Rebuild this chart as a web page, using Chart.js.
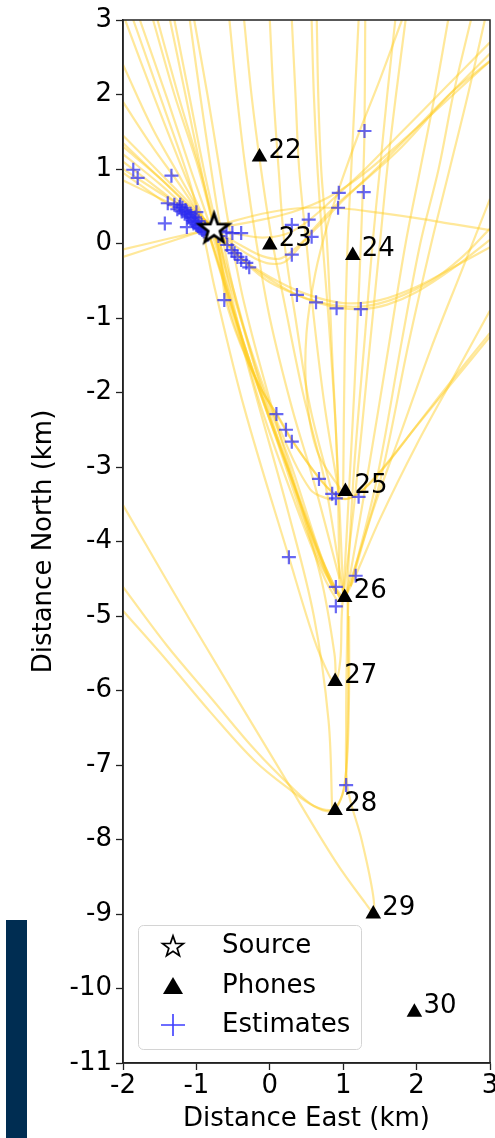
<!DOCTYPE html>
<html>
<head>
<meta charset="utf-8">
<script src="https://cdn.jsdelivr.net/npm/chart.js@4.4.1/dist/chart.umd.min.js"></script>
<style>
  html,body{margin:0;padding:0;background:#fff;overflow:hidden;}
  #wrap{position:relative;width:495px;height:1138px;overflow:hidden;}
  #c{position:absolute;left:0;top:0;}
  #bar{position:absolute;left:6px;top:920px;width:21px;height:218px;background:#002d52;}
</style>
</head>
<body>
<div id="wrap"><canvas id="c" width="506" height="1138"></canvas><div id="bar"></div></div>
<script>
// ---------- data ----------
const xTicks = [-2, -1, 0, 1, 2, 3];
const yTicks = [3, 2, 1, 0, -1, -2, -3, -4, -5, -6, -7, -8, -9, -10, -11];

const sourcePoint = [[-0.76, 0.21]];

const phoneIds   = ['22', '23', '24', '25', '26', '27', '28', '29', '30'];
const phoneEast  = [-0.14, 0.00, 1.13, 1.03, 1.02, 0.89, 0.89, 1.41, 1.97];
const phoneNorth = [1.16, -0.02, -0.16, -3.33, -4.75, -5.88, -7.61, -9.00, -10.32];

const estimateEast = [
  -1.86, -1.80, -1.34, -1.43, -1.39, -1.30, -1.23, -1.19, -1.13, -1.12, -1.07, -1.02, -1.00, -0.96,
  -0.92, -0.86, -1.13, -1.00, -0.59, -0.51, -0.39, -0.58, -0.52, -0.48, -0.44, -0.39, -0.32, -0.28,
  -0.62, -1.26, -1.20, -1.16, -1.10, -1.05, -1.04, -0.98, -0.94, -0.90, -1.15, -1.08, -1.02, -0.97,
  -0.93, -0.88, -1.22, -0.84, -0.68, -0.70,
  0.30, 0.30, 0.37, 0.94, 1.28, 0.93, 0.53, 0.57, 0.63, 0.91, 1.24, 1.29,
  0.09, 0.22, 0.30, 0.67, 0.85, 0.90, 1.21, 0.26, 1.17, 0.90, 0.90, 1.04
];
const estimateNorth = [
  0.99, 0.88, 0.91, 0.27, 0.54, 0.52, 0.49, 0.48, 0.42, 0.38, 0.34, 0.29, 0.25, 0.21,
  0.18, 0.15, 0.22, 0.42, 0.15, 0.14, 0.14, -0.02, -0.09, -0.13, -0.18, -0.22, -0.26, -0.32,
  -0.76, 0.46, 0.43, 0.40, 0.36, 0.31, 0.27, 0.23, 0.20, 0.16, 0.45, 0.40, 0.35, 0.30,
  0.25, 0.20, 0.52, 0.12, 0.17, 0.10,
  0.25, -0.15, -0.69, 0.68, 0.69, 0.48, 0.32, 0.09, -0.79, -0.87, -0.88, 1.51,
  -2.29, -2.50, -2.66, -3.16, -3.36, -3.42, -3.40, -4.21, -4.46, -4.61, -4.87, -7.27
];

// hyperbola traces, [east, north] pairs
const tracesFromTop = [
  [[-2,2.4],[-1.6,1.55],[-1.2,0.85],[-0.9,0.3],[-0.7,-0.3],[-0.45,-1.1],[-0.1,-2.1],[0.35,-3.3],[0.75,-4.4],[1.0,-4.76]],
  [[-2,1.9],[-1.6,1.3],[-1.2,0.75],[-0.9,0.28],[-0.72,-0.2],[-0.5,-0.9],[-0.2,-1.8],[0.2,-2.9],[0.6,-4.0],[0.95,-4.75]],
  [[-1.97,3],[-1.55,1.9],[-1.15,0.9],[-0.85,0.2],[-0.6,-0.6],[-0.3,-1.5],[0.1,-2.6],[0.5,-3.7],[0.85,-4.6],[1.0,-4.76]],
  [[-1.86,3],[-1.45,1.85],[-1.1,0.85],[-0.9,0.1],[-0.75,-0.6],[-0.35,-2.2],[0.26,-4.21],[0.6,-5.3],[0.8,-5.78],[0.89,-5.9],[0.96,-5.6],[0.98,-5.0],[1.02,-4.4],[1.08,-3.3],[1.15,-2.0],[1.22,-0.5],[1.27,0.8],[1.29,1.51],[1.3,3]],
  [[-1.77,3],[-1.4,1.95],[-1.08,1.0],[-0.82,0.25],[-0.62,-0.45],[-0.3,-1.5],[0.15,-2.8],[0.6,-4.1],[0.9,-4.7]],
  [[-1.59,3],[-1.3,2.0],[-1.0,1.1],[-0.78,0.3],[-0.6,-0.35],[-0.3,-1.3],[0.1,-2.4],[0.55,-3.3],[0.85,-3.45]],
  [[-1.53,3],[-1.25,2.0],[-0.98,1.1],[-0.75,0.25],[-0.5,-0.6],[-0.15,-1.8],[0.3,-3.0],[0.7,-4.2],[0.95,-4.75]],
  [[-1.36,3],[-1.15,2.0],[-0.95,1.05],[-0.75,0.15],[-0.55,-0.7],[-0.2,-2.0],[0.25,-3.6],[0.6,-5.0],[0.8,-6.4],[0.85,-7.6]],
  [[-1.30,3],[-1.1,2.0],[-0.9,1.0],[-0.72,0.2],[-0.5,-0.8],[-0.15,-2.1],[0.35,-3.5],[0.75,-4.5],[0.92,-4.8]],
  [[-1.09,3],[-0.95,2.0],[-0.8,1.0],[-0.65,0.1],[-0.45,-0.8],[-0.1,-2.0],[0.35,-3.3],[0.7,-4.5],[0.88,-5.5],[0.9,-5.85]],
  [[-1.03,3],[-0.85,2.0],[-0.7,1.1],[-0.55,0.2],[-0.35,-0.8],[0,-2.1],[0.4,-3.4],[0.85,-4.6]],
  [[-0.55,3],[-0.45,2],[-0.33,1],[-0.18,0],[0.0,-1.0],[0.3,-2.2],[0.6,-3.2],[0.95,-4.5]],
  [[-0.35,3],[-0.25,2],[-0.12,1],[0.02,0.1],[0.2,-0.8],[0.45,-2.0],[0.75,-3.2],[1.0,-4.7]],
  [[0.0,3],[0.05,2],[0.12,1],[0.2,0],[0.35,-1],[0.55,-2.2],[0.85,-3.35]],
  [[0.30,3],[0.35,2],[0.4,1],[0.5,0],[0.6,-1],[0.75,-2.2],[0.95,-3.4]],
  [[0.57,3],[0.6,2],[0.65,1],[0.72,0],[0.8,-1],[0.9,-2.5],[1.0,-4.7]],
  [[0.64,3],[0.66,2],[0.7,1],[0.78,0],[0.85,-1.5],[0.92,-3.0],[0.95,-4.6]],
  [[1.21,3],[1.16,2],[1.11,1],[1.06,0],[1.02,-1.5],[1.0,-3.3]],
  [[1.8,3],[1.5,2.2],[1.22,1.5],[1.0,0.9],[0.8,0.3],[0.62,-0.4],[0.5,-1.2],[0.5,-2.0],[0.65,-2.8],[1.0,-3.35]],
  [[1.71,3],[1.6,2],[1.5,1],[1.4,0],[1.3,-1.2],[1.15,-3.0],[1.05,-4.7]],
  [[1.85,3],[1.72,2],[1.6,1],[1.5,0],[1.35,-1.5],[1.15,-3.5],[1.0,-4.76]],
  [[2.43,3],[2.25,2],[2.05,1],[1.85,0],[1.6,-1.5],[1.35,-3.0],[1.05,-4.7]],
  [[2.74,3],[2.5,2],[2.3,1],[2.05,0],[1.8,-1.3],[1.45,-3.2],[1.1,-4.6]],
  [[2.93,3],[2.7,2.0],[2.45,1.0],[2.2,0],[1.9,-1.3],[1.5,-3.2],[1.05,-4.7]],
  [[3,-0.9],[2.5,-1.8],[2.0,-2.7],[1.5,-3.7],[1.15,-4.5],[1.02,-4.76]],
  [[3,0.6],[2.6,-0.4],[2.2,-1.4],[1.8,-2.5],[1.4,-3.6],[1.1,-4.6]]
];

const tracesThroughSource = [
  [[-2,0.85],[-1.4,0.56],[-1.0,0.38],[-0.8,0.22],[-0.68,-0.2],[-0.6,-0.76],[-0.4,-1.35],[-0.15,-1.9],[0.09,-2.29],[0.3,-2.64],[0.67,-3.15],[0.9,-3.38],[1.05,-3.43],[1.25,-3.32],[1.52,-3.04],[2.0,-2.45],[2.5,-1.85],[3.0,-1.25]],
  [[-2,1.0],[-1.4,0.62],[-1.0,0.4],[-0.78,0.2],[-0.66,-0.25],[-0.57,-0.8],[-0.37,-1.4],[-0.12,-1.95],[0.12,-2.33],[0.33,-2.68],[0.7,-3.18],[0.93,-3.4],[1.08,-3.42],[1.3,-3.28],[1.58,-2.98],[2.05,-2.38],[2.55,-1.75],[3.0,-1.2]],
  [[-2,1.2],[-1.5,0.8],[-1.1,0.45],[-0.76,0.2],[-0.5,-0.08],[-0.25,-0.33],[0.0,-0.52],[0.37,-0.69],[0.64,-0.79],[0.93,-0.86],[1.25,-0.88],[1.6,-0.82],[2.0,-0.65],[2.5,-0.33],[3.0,0.05]],
  [[-2,1.1],[-1.5,0.72],[-1.1,0.42],[-0.72,0.15],[-0.4,-0.2],[0,-0.48],[0.4,-0.7],[0.9,-0.83],[1.3,-0.84],[1.7,-0.74],[2.2,-0.5],[2.6,-0.2],[3.0,0.2]],
  [[-2,1.3],[-1.5,0.88],[-1.1,0.5],[-0.76,0.2],[-0.45,-0.15],[0.0,-0.45],[0.5,-0.68],[1.0,-0.8],[1.5,-0.76],[2.0,-0.58],[2.5,-0.32],[3.0,-0.05]],
  [[-2,1.45],[-1.5,0.95],[-1.1,0.55],[-0.76,0.2],[-0.45,-0.05],[-0.2,-0.2],[0,-0.27],[0.2,-0.25],[0.4,-0.05],[0.6,0.2],[0.94,0.55],[1.3,0.85],[1.8,1.3],[2.4,1.95],[3.0,2.55]],
  [[-2,1.35],[-1.5,0.88],[-1.0,0.42],[-0.7,0.16],[-0.4,-0.02],[-0.1,-0.17],[0.15,-0.2],[0.4,-0.02],[0.7,0.27],[1.0,0.58],[1.5,1.05],[2.0,1.55],[2.5,2.05],[3.0,2.45]],
  [[-2,0.95],[-1.5,0.6],[-1.1,0.35],[-0.76,0.2],[-0.4,0.12],[-0.1,0.08],[0.2,0.12],[0.45,0.25],[0.7,0.45],[0.95,0.68],[1.3,1.0],[1.8,1.5],[2.4,2.1],[3.0,2.7]],
  [[-2,-0.18],[-1.5,-0.02],[-1.0,0.14],[-0.5,0.3],[0,0.42],[0.5,0.48],[1.0,0.47],[1.5,0.41],[2.0,0.34],[2.5,0.26],[3.0,0.18]],
  [[-2,-0.08],[-1.4,0.06],[-0.76,0.2],[-0.2,0.3],[0.3,0.42],[0.8,0.62],[1.3,0.95],[2.0,1.55],[2.5,2.0],[3.0,2.45]]
];

const tracesSouth = [
  [[-2,-3.51],[-1.09,-5.05],[0.22,-7.2],[0.9,-8.3],[1.3,-8.85],[1.41,-8.97],[1.4,-8.7],[1.25,-8.0],[1.06,-7.3],[1.04,-6.5],[1.05,-5.5],[1.07,-4.8]],
  [[-2,-4.61],[-1.4,-5.4],[-0.8,-6.1],[-0.2,-6.8],[0.3,-7.3],[0.6,-7.55],[0.85,-7.62],[0.95,-7.5],[1.02,-7.25],[1.06,-6.8],[1.08,-6.0],[1.08,-5.0]],
  [[-2,-4.93],[-1.4,-5.6],[-0.8,-6.3],[-0.2,-6.95],[0.3,-7.35],[0.6,-7.55],[0.85,-7.6],[0.97,-7.45],[1.03,-7.2],[1.06,-6.5],[1.07,-5.8],[1.06,-4.8]]
];

// ---------- helpers ----------
const FONT = "'DejaVu Sans', 'Liberation Sans', sans-serif";
const LINE_COLOR = 'rgba(255, 205, 30, 0.45)';
const EST_COLOR = 'rgba(45, 45, 240, 0.72)';

function makeStar(R, r, lw) {
  const c = document.createElement('canvas');
  const s = Math.ceil(2 * R + lw * 2 + 4);
  c.width = c.height = s;
  const g = c.getContext('2d');
  const cx = s / 2, cy = s / 2 + R * 0.08;
  g.beginPath();
  for (let i = 0; i < 10; i++) {
    const a = -Math.PI / 2 + i * Math.PI / 5;
    const rr = i % 2 ? r : R;
    g.lineTo(cx + rr * Math.cos(a), cy + rr * Math.sin(a));
  }
  g.closePath();
  g.fillStyle = '#fff';
  g.fill();
  g.lineWidth = lw;
  g.lineJoin = 'miter';
  g.strokeStyle = '#000';
  g.stroke();
  return c;
}
const bigStar = makeStar(15.5, 6.2, 2.8);
const smallStar = makeStar(11, 4.4, 1.7);

const toXY = arr => arr.map(p => ({ x: p[0], y: p[1] }));

const datasets = [];
datasets.push({
  label: 'Source', data: toXY(sourcePoint), pointStyle: bigStar, pointRadius: 15, order: 0
});
datasets.push({
  label: 'Phones', data: phoneEast.map((x, i) => ({ x, y: phoneNorth[i] })),
  pointStyle: 'triangle', pointRadius: 9, backgroundColor: '#000', borderColor: '#000', borderWidth: 0, order: 1
});
datasets.push({
  label: 'Estimates', data: estimateEast.map((x, i) => ({ x, y: estimateNorth[i] })),
  pointStyle: 'cross', pointRadius: 7, borderColor: EST_COLOR, borderWidth: 2.2, order: 2
});
[...tracesFromTop, ...tracesThroughSource, ...tracesSouth].forEach((tr, i) => {
  datasets.push({
    label: 'trace' + i, data: toXY(tr), showLine: true, pointRadius: 0,
    borderColor: LINE_COLOR, borderWidth: 2.2, tension: 0.35, order: 10 + i
  });
});

const overlay = {
  id: 'overlay',
  afterDatasetsDraw(chart) {
    const { ctx, chartArea, scales } = chart;
    ctx.save();
    // frame
    ctx.strokeStyle = '#222';
    ctx.lineWidth = 1.5;
    ctx.strokeRect(chartArea.left, chartArea.top, chartArea.right - chartArea.left, chartArea.bottom - chartArea.top);
    // phone labels
    ctx.fillStyle = '#000';
    ctx.font = '26px ' + FONT;
    ctx.textAlign = 'left';
    ctx.textBaseline = 'alphabetic';
    phoneIds.forEach((id, i) => {
      const px = scales.x.getPixelForValue(phoneEast[i]);
      const py = scales.y.getPixelForValue(phoneNorth[i]);
      ctx.fillText(id, px + 9, py + 1);
    });
    // legend
    const bx = 138.5, by = 925.5, bw = 223, bh = 124;
    ctx.beginPath();
    ctx.roundRect(bx, by, bw, bh, 5);
    ctx.fillStyle = 'rgba(255,255,255,0.85)';
    ctx.fill();
    ctx.strokeStyle = '#d4d4d4';
    ctx.lineWidth = 1;
    ctx.stroke();
    const mx = 173, rows = [946, 986, 1025];
    ctx.drawImage(smallStar, Math.round(mx - smallStar.width / 2), Math.round(rows[0] - smallStar.height / 2));
    ctx.beginPath();
    ctx.moveTo(mx, rows[1] - 9); ctx.lineTo(mx - 10, rows[1] + 8); ctx.lineTo(mx + 10, rows[1] + 8); ctx.closePath();
    ctx.fillStyle = '#000'; ctx.fill();
    ctx.strokeStyle = 'rgba(40,40,255,0.9)';
    ctx.lineWidth = 1.6;
    ctx.beginPath();
    ctx.moveTo(mx - 12, rows[2]); ctx.lineTo(mx + 12, rows[2]);
    ctx.moveTo(mx, rows[2] - 11); ctx.lineTo(mx, rows[2] + 11);
    ctx.stroke();
    ctx.fillStyle = '#000';
    ctx.font = '26px ' + FONT;
    ctx.textBaseline = 'middle';
    ['Source', 'Phones', 'Estimates'].forEach((t, i) => ctx.fillText(t, 222, rows[i]));
    ctx.restore();
  }
};

const tickFont = { family: FONT, size: 26 };

new Chart(document.getElementById('c'), {
  type: 'scatter',
  data: { datasets },
  options: {
    responsive: false,
    animation: false,
    events: [],
    layout: { padding: { top: 20, right: 15, left: 0, bottom: 0 } },
    plugins: { legend: { display: false }, tooltip: { enabled: false } },
    scales: {
      x: {
        type: 'linear', min: -2, max: 3,
        afterBuildTicks: s => { s.ticks = xTicks.map(v => ({ value: v })); },
        ticks: { font: tickFont, color: '#000', padding: 1, maxRotation: 0, autoSkip: false },
        grid: { display: true, drawOnChartArea: false, drawTicks: true, tickLength: 7, tickColor: '#222', tickWidth: 1.3 },
        border: { display: true, color: '#222', width: 1.5 },
        title: { display: true, text: 'Distance East (km)', font: { family: FONT, size: 26 }, color: '#000', padding: { top: 0, bottom: 3 } },
        afterFit: s => { s.height = 75; s.paddingLeft = 0; s.paddingRight = 0; }
      },
      y: {
        type: 'linear', min: -11, max: 3,
        afterBuildTicks: s => { s.ticks = yTicks.map(v => ({ value: v })); },
        ticks: { font: tickFont, color: '#000', padding: 4, autoSkip: false },
        grid: { display: true, drawOnChartArea: false, drawTicks: true, tickLength: 7, tickColor: '#222', tickWidth: 1.3 },
        border: { display: true, color: '#222', width: 1.5 },
        title: { display: true, text: 'Distance North (km)', font: { family: FONT, size: 26 }, color: '#000', padding: { top: 29, bottom: 0 } },
        afterFit: s => { s.width = 123; s.paddingTop = 0; s.paddingBottom = 0; }
      }
    }
  },
  plugins: [overlay]
});
</script>
</body>
</html>
